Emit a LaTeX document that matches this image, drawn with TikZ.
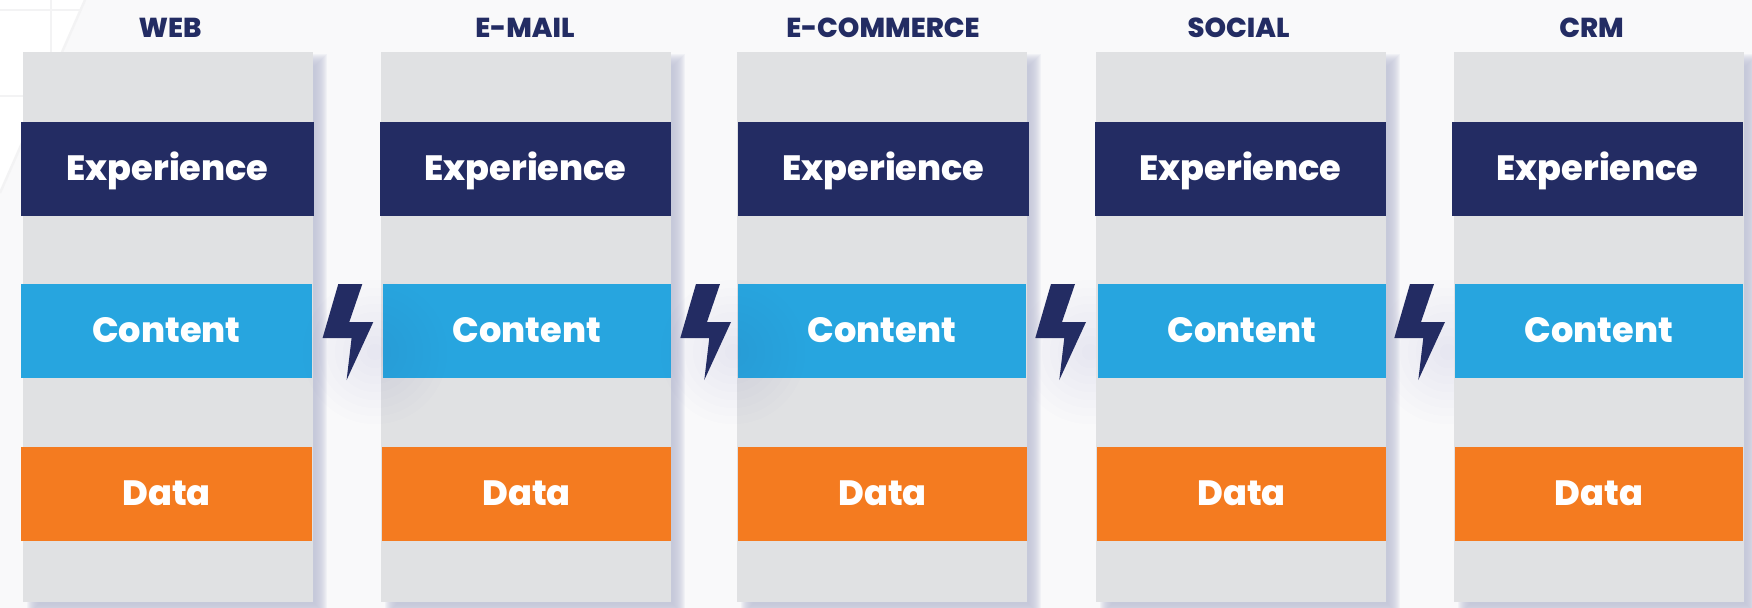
\documentclass[tikz,border=0pt]{standalone}
\usepackage{fontspec}
\setmainfont{Poppins}[UprightFont=*-ExtraBold,BoldFont=*-ExtraBold]
\definecolor{navyband}{HTML}{232C63}
\definecolor{blueband}{HTML}{27A5DF}
\definecolor{orangeband}{HTML}{F47B20}
\definecolor{greycol}{HTML}{E0E1E3}
\definecolor{pagebg}{HTML}{F9F9FA}
\definecolor{shadowcol}{HTML}{C2C5D9}
\definecolor{glowcol}{HTML}{5060D0}
\definecolor{gridline}{HTML}{F3F3F4}
\tikzset{
  band/.style={inner sep=0pt,outer sep=0pt,text=white,text height=0.52cm,text depth=0.06cm,
    font=\fontsize{20}{20}\selectfont},
  title/.style={inner sep=0pt,text=navyband,font=\fontsize{15.6}{16}\selectfont},
  colbox/.style={fill=greycol,inner sep=0pt,outer sep=0pt,minimum height=11cm},
}
\newcommand{\bandnode}[6]{\node[band,fill=#5,minimum width={(#3-#2)*0.02cm},minimum height=1.88cm] (#1) at ({(#2+#3)/2},#4) {#6};}
\newcommand{\glowat}[1]{\foreach \g in {8,16,...,72}{\fill[glowcol,opacity=0.01] (#1,352) circle ({\g});}}
\begin{document}
\begin{tikzpicture}[x=0.02cm,y=-0.02cm]
	\useasboundingbox (0,0) rectangle (1752,608);
	\fill[pagebg] (0,0) rectangle (1752,608);
	\fill[white] (0,0) -- (85,0) -- (0,193) -- cycle;
	\draw[gridline,line width=1.4pt] (0,10) -- (82,10);
	\draw[gridline,line width=1.4pt] (51,0) -- (51,52);
	\draw[gridline,line width=1.4pt] (0,96) -- (23,96);
	\draw[gridline,line width=1.4pt] (85,0) -- (0,193);
	\glowat{1090}
	\glowat{1448}
	\foreach \gl/\gr in {23/313,381/671,737/1027,1096/1386,1454/1744}{
		\foreach \b in {-6,...,6}{\fill[shadowcol,opacity=0.15] ({\gl+10-\b},{60-\b}) rectangle ({\gr+8+\b},{610+\b});}
	}
	\foreach \n/\gl/\el/\er/\cl/\cr/\dl/\dr/\tx/\name in {
		web/23/21/314/21/312/21/312/170/WEB,
		mail/381/380/671/383/671/382/671/525/E-MAIL,
		shop/737/738/1029/738/1026/738/1027/883/E-COMMERCE,
		social/1096/1095/1386/1098/1386/1097/1386/1238.5/SOCIAL,
		crm/1454/1452/1743/1455/1743/1455/1743/1591.5/CRM}{
		\node[colbox,minimum width=5.8cm] (col\n) at ({\gl+145},327) {};
		\node[title] (title\n) at (\tx,27.5) {\name};
		\bandnode{exp\n}{\el}{\er}{169}{navyband}{Experience}
		\bandnode{cnt\n}{\cl}{\cr}{331}{blueband}{Content}
		\bandnode{dat\n}{\dl}{\dr}{494}{orangeband}{Data}
	}
	\glowat{375}
	\glowat{733}
	\foreach \x in {338.3,696,1051,1410}{
		\fill[navyband] (\x,284) -- ({\x+24},284) -- ({\x+11},322) -- ({\x+35},322) -- ({\x+8.3},380) -- ({\x+13.3},338) -- ({\x-15.7},338) -- cycle;
	}
\end{tikzpicture}
\end{document}
